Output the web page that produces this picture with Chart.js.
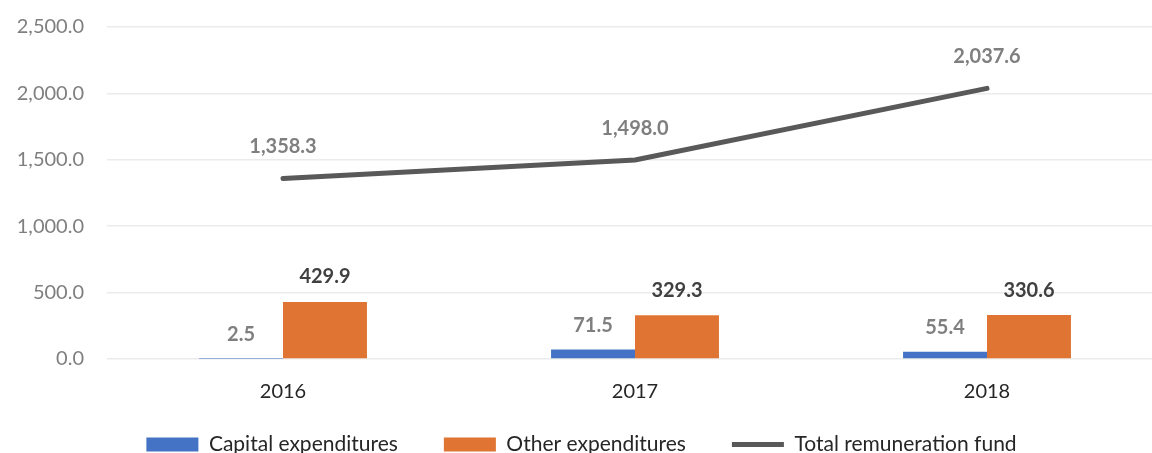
<!DOCTYPE html>
<html>
<head>
<meta charset="utf-8">
<script src="https://cdn.jsdelivr.net/npm/chart.js@4/dist/chart.umd.min.js"></script>
<style>
  html, body { margin: 0; padding: 0; background: #ffffff; overflow: hidden; }
  #wrap { position: absolute; left: 0; top: 0; width: 1164px; height: 470px; }
</style>
</head>
<body>
<div id="wrap"><canvas id="chart" width="1164" height="470"></canvas></div>
<script>
// Chart data
const years = ['2016', '2017', '2018'];
const capitalExp = [2.5, 71.5, 55.4];
const otherExp = [429.9, 329.3, 330.6];
const remunerationFund = [1358.3, 1498.0, 2037.6];
const yTicks = [0, 500, 1000, 1500, 2000, 2500];

const FONT = 'Lato, "Open Sans", sans-serif';
const LEGEND_TOP = 388; // legend items start at top + labels.padding

function fmt(v) {
    return v.toLocaleString('en-US', { minimumFractionDigits: 1, maximumFractionDigits: 1 });
}

// Simple value labels drawn above bars and line points
const valueLabels = {
    id: 'valueLabels',
    afterDatasetsDraw(chart) {
        const ctx = chart.ctx;
        ctx.save();
        ctx.font = 'bold 20px ' + FONT;
        ctx.textAlign = 'center';
        ctx.textBaseline = 'middle';
        chart.data.datasets.forEach((ds, i) => {
            const meta = chart.getDatasetMeta(i);
            ctx.fillStyle = ds.labelColor;
            meta.data.forEach((el, j) => {
                ctx.fillText(fmt(ds.data[j]), el.x, el.y - ds.labelOffset);
            });
        });
        ctx.restore();
    }
};

// Legend keeps wide item spacing but only reserves a short strip at the bottom
const legendFit = {
    id: 'legendFit',
    beforeLayout(chart) {
        const lg = chart.legend;
        if (lg && !lg._fitPatched) {
            const origFit = lg.fit;
            lg.fit = function () {
                origFit.call(this);
                this.height = 40;
            };
            lg._fitPatched = true;
        }
    },
    afterLayout(chart) {
        const lg = chart.legend;
        if (lg) {
            lg.top = LEGEND_TOP;
            lg.bottom = chart.height;
            lg.height = lg.bottom - lg.top;
        }
    }
};

const ctx = document.getElementById('chart').getContext('2d');
const chart = new Chart(ctx, {
    data: {
        labels: years,
        datasets: [
            {
                type: 'line',
                label: 'Total remuneration fund',
                data: remunerationFund,
                borderColor: '#595959',
                backgroundColor: '#595959',
                borderWidth: 5,
                borderCapStyle: 'round',
                pointRadius: 0,
                pointStyle: 'line',
                tension: 0,
                order: 0,
                labelColor: '#7f7f7f',
                labelOffset: 32
            },
            {
                type: 'bar',
                label: 'Capital expenditures',
                data: capitalExp,
                backgroundColor: '#4472c4',
                borderWidth: 0,
                pointStyle: 'rect',
                order: 1,
                labelColor: '#7f7f7f',
                labelOffset: 24
            },
            {
                type: 'bar',
                label: 'Other expenditures',
                data: otherExp,
                backgroundColor: '#e07432',
                borderWidth: 0,
                pointStyle: 'rect',
                order: 1,
                labelColor: '#404040',
                labelOffset: 25
            }
        ]
    },
    options: {
        responsive: false,
        animation: false,
        layout: { padding: { top: 27, right: 1, bottom: 9, left: 0 } },
        datasets: {
            bar: { categoryPercentage: 0.477, barPercentage: 1.0 }
        },
        plugins: {
            tooltip: { enabled: false },
            legend: {
                position: 'bottom',
                labels: {
                    usePointStyle: true,
                    pointStyleWidth: 52,
                    boxWidth: 52,
                    boxHeight: 14,
                    padding: 46,
                    color: '#262626',
                    font: { family: FONT, size: 21 },
                    sort: (a, b) => {
                        const order = ['Capital expenditures', 'Other expenditures', 'Total remuneration fund'];
                        return order.indexOf(a.text) - order.indexOf(b.text);
                    }
                }
            }
        },
        scales: {
            x: {
                grid: { display: false },
                border: { display: false },
                ticks: {
                    color: '#262626',
                    font: { family: FONT, size: 20 },
                    padding: 13,
                    maxRotation: 0
                },
                afterFit(scale) { scale.height = 62; }
            },
            y: {
                min: 0,
                max: 2500,
                afterBuildTicks(scale) { scale.ticks = yTicks.map(v => ({ value: v })); },
                grid: { color: '#ebebeb', lineWidth: 1.5, drawTicks: false },
                border: { display: false },
                ticks: {
                    color: '#7f7f7f',
                    font: { family: FONT, size: 20 },
                    padding: 23,
                    callback: v => fmt(v)
                },
                afterFit(scale) {
                    scale.width = 107;
                    scale.paddingTop = 0;
                    scale.paddingBottom = 0;
                }
            }
        }
    },
    plugins: [valueLabels, legendFit]
});
</script>
</body>
</html>
